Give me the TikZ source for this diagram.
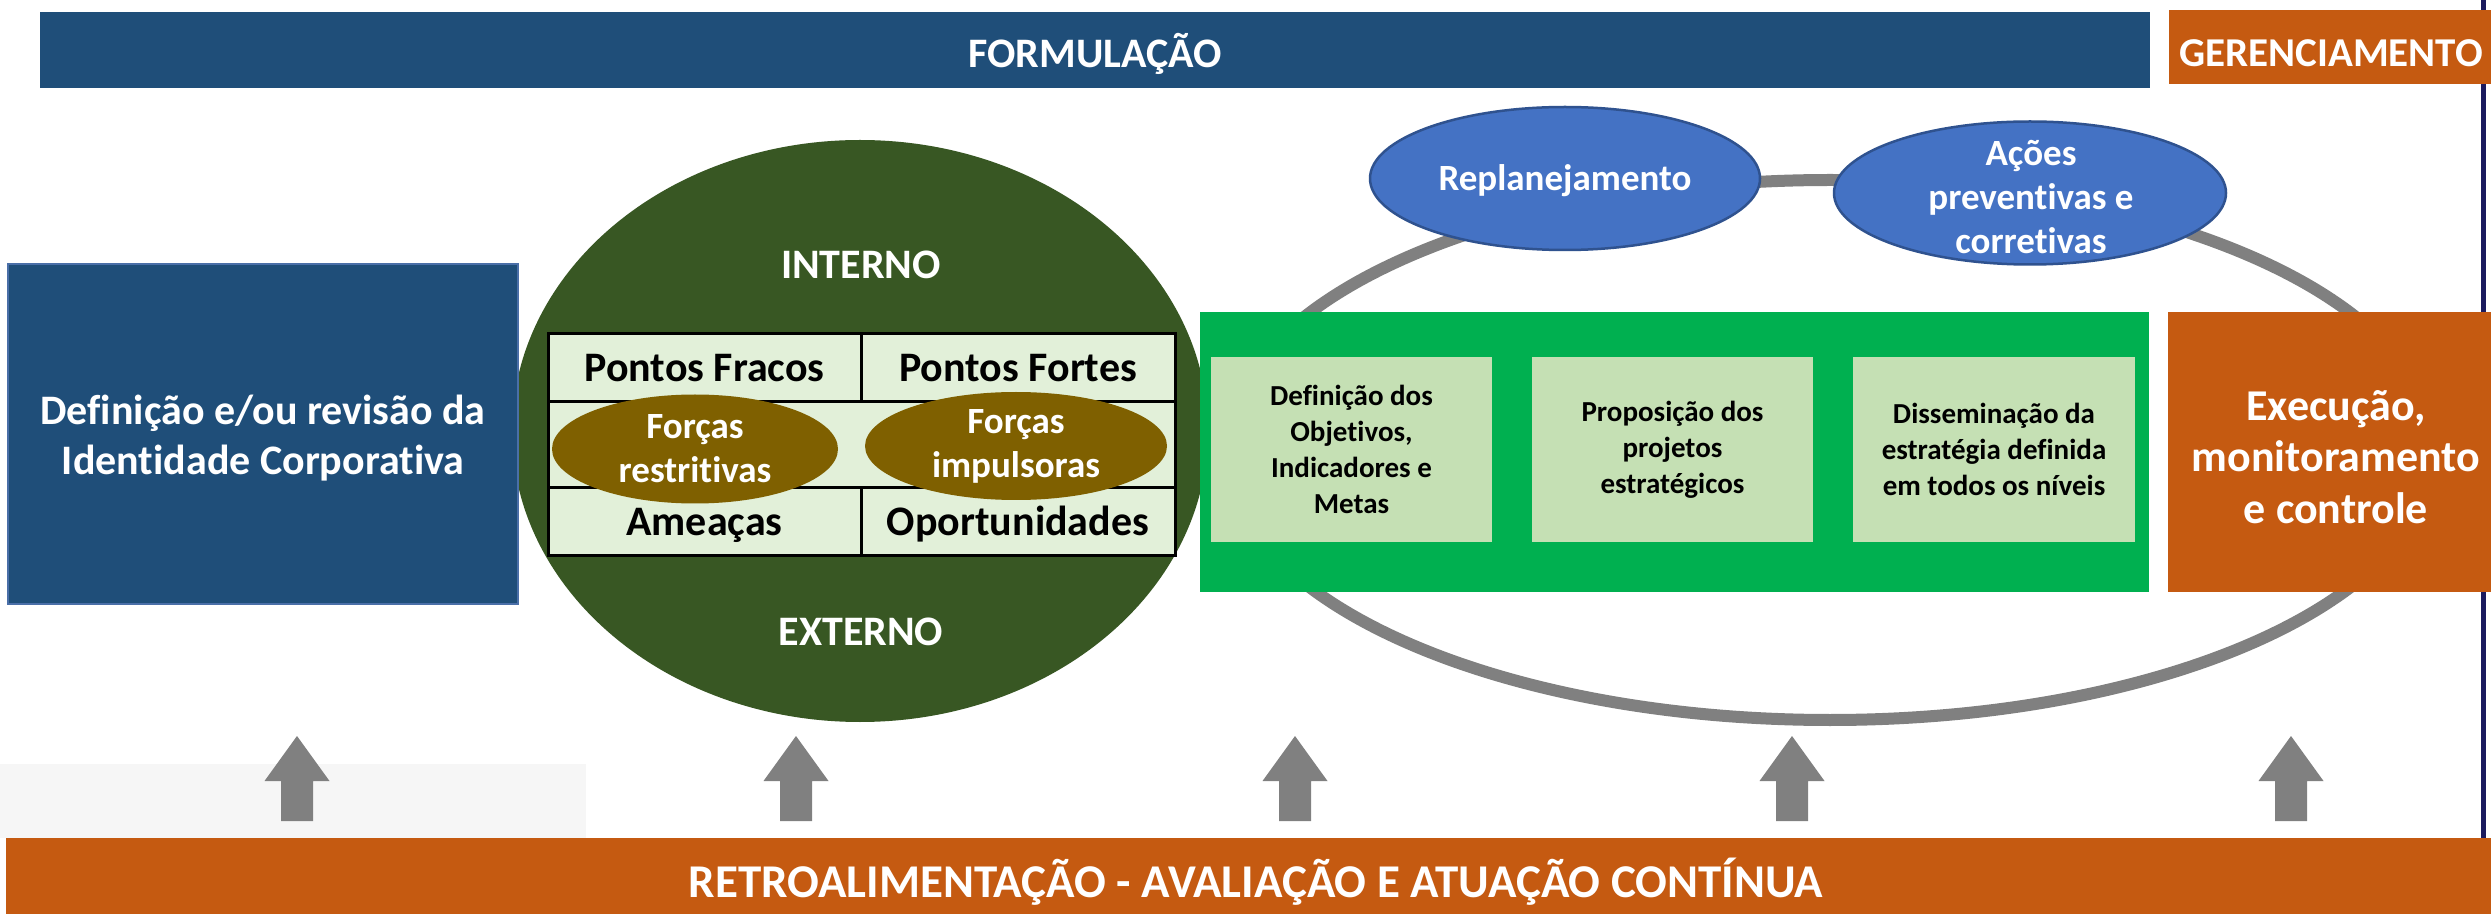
\documentclass[tikz,border=0pt]{standalone}
\usepackage{fontspec}
\setmainfont{Carlito}[Ligatures=NoCommon]
\usetikzlibrary{shapes.geometric}
\definecolor{navy}{HTML}{1F4E79}
\definecolor{navyedge}{HTML}{4A6FA8}
\definecolor{orng}{HTML}{C55A11}
\definecolor{dkgreen}{HTML}{385723}
\definecolor{brgreen}{HTML}{00B050}
\definecolor{ltgreen}{HTML}{C5E0B4}
\definecolor{cellg}{HTML}{E2F0D9}
\definecolor{brwn}{HTML}{7F6000}
\definecolor{blueell}{HTML}{4472C4}
\definecolor{blueedge}{HTML}{2F528F}
\definecolor{arrgray}{HTML}{808080}
\definecolor{palegray}{HTML}{F6F6F6}
\definecolor{edgenavy}{HTML}{1B1B5E}
\tikzset{
  every node/.append style={inner sep=0pt, outer sep=0pt},
  plainbox/.style={rectangle, draw=none},
  ellbox/.style={ellipse, draw=none},
  cell/.style={rectangle, draw=black, line width=1.5pt, fill=cellg},
  fA/.style={font=\bfseries\fontsize{21pt}{25pt}\selectfont},
  fG/.style={font=\bfseries\fontsize{20.5pt}{24pt}\selectfont},
  fR/.style={font=\bfseries\fontsize{23.5pt}{28pt}\selectfont},
  fE/.style={font=\bfseries\fontsize{18.5pt}{22pt}\selectfont},
  fB/.style={font=\bfseries\fontsize{14.5pt}{18pt}\selectfont},
  fX/.style={font=\bfseries\fontsize{22pt}{25.75pt}\selectfont},
  capA/.style={text height=13.4pt, text depth=0pt},
  capE/.style={text height=11.8pt, text depth=0pt},
}
\begin{document}
\begin{tikzpicture}[x=0.5pt,y=-0.5pt]
\useasboundingbox (0,0) rectangle (2491,914);
\fill[white] (0,0) rectangle (2491,914);
% background details
\fill[palegray] (0,764) rectangle (586,838);
\fill[edgenavy] (2481,0) rectangle (2486,838);

% top bars
\node[plainbox, fill=navy, minimum width=1055pt, minimum height=38pt] (formbar) at (1095,50) {};
\node[fA, text=white, anchor=base] (formtxt) at (1095,68) {FORMULAÇÃO};
\node[plainbox, fill=orng, minimum width=161pt, minimum height=37pt] (gerbar) at (2330,47) {};
\node[fG, text=white, anchor=base] (gertxt) at (2331,67) {GERENCIAMENTO};

% SWOT ellipse
\node[ellbox, fill=dkgreen, minimum width=348pt, minimum height=291pt] (swot) at (860,431) {};
\node[fA, text=white, capA] (interno) at (861,265) {INTERNO};
\node[fA, text=white, capA] (externo) at (861,632) {EXTERNO};

% left box
\node[plainbox, fill=navy, draw=navyedge, line width=0.75pt, minimum width=255pt, minimum height=170pt] (ident) at (263,434) {};
\node[fA, text=white, align=center] (identtxt) at (263,438) {Definição e/ou revisão da\\Identidade Corporativa};

% SWOT table
\node[cell, minimum width=156.5pt, minimum height=34pt, fA, capA] (pfr) at (704.5,368) {Pontos Fracos};
\node[cell, minimum width=157pt, minimum height=34pt, fA, capA] (pfo) at (1018,368) {Pontos Fortes};
\node[cell, minimum width=313.5pt, minimum height=43pt] (mid) at (861.5,445) {};
\node[cell, minimum width=156.5pt, minimum height=34pt, fA, capA] (ame) at (704.5,522) {Ameaças};
\node[cell, minimum width=157pt, minimum height=34pt, fA, capA] (opo) at (1018,522) {Oportunidades};
\node[ellbox, fill=brwn, minimum width=143pt, minimum height=54.5pt] (frest) at (695,449) {};
\node[fE, text=white, align=center] (fresttxt) at (frest.center) {Forças\\restritivas};
\node[ellbox, fill=brwn, minimum width=151pt, minimum height=54pt] (fimp) at (1016,446) {};
\node[fE, text=white, align=center] (fimptxt) at (fimp.center) {Forças\\impulsoras};

% cycle ring
\node[ellipse, draw=arrgray, line width=6pt, minimum width=604pt, minimum height=270pt] (ring) at (1830,450) {};

% green block
\node[plainbox, fill=brgreen, minimum width=474.5pt, minimum height=140pt] (green) at (1674.5,452) {};
\node[plainbox, fill=ltgreen, minimum width=140.5pt, minimum height=92.5pt, fB, align=center] (obj) at (1351.5,449.5) {Definição dos\\Objetivos,\\Indicadores e\\Metas};
\node[plainbox, fill=ltgreen, minimum width=140.5pt, minimum height=92.5pt, fB, align=center] (proj) at (1672.5,449.5) {Proposição dos\\projetos\\estratégicos};
\node[plainbox, fill=ltgreen, minimum width=141pt, minimum height=92.5pt, fB, align=center] (diss) at (1994,449.5) {Disseminação da\\estratégia definida\\em todos os níveis};

% execution box
\node[plainbox, fill=orng, minimum width=161.5pt, minimum height=140pt] (exec) at (2329.5,452) {};
\node[fX, text=white, align=center] (exectxt) at (2336,457) {Execução,\\monitoramento\\e controle};

% blue ellipses
\node[ellbox, fill=blueell, draw=blueedge, line width=1.25pt, minimum width=195pt, minimum height=71.5pt] (replan) at (1565,178.5) {};
\node[fE, text=white, capE] (replantxt) at (replan.center) {Replanejamento};
\node[ellbox, fill=blueell, draw=blueedge, line width=1.25pt, minimum width=196pt, minimum height=71.5pt] (acoes) at (2030,193) {};
\node[fE, text=white, align=center] (acoestxt) at (2031,197) {Ações\\preventivas e\\corretivas};

% feedback arrows
\foreach \ax in {297,796,1295,1792,2291}
  \fill[arrgray] (\ax,736) -- (\ax+32.5,781) -- (\ax+16,781) -- (\ax+16,821)
     -- (\ax-16,821) -- (\ax-16,781) -- (\ax-32.5,781) -- cycle;

% bottom bar
\node[plainbox, fill=orng, minimum width=1242.5pt, minimum height=38pt] (retro) at (1248.5,876) {};
\node[fR, text=white, anchor=base] (retrotxt) at (1256,897) {RETROALIMENTAÇÃO - AVALIAÇÃO E ATUAÇÃO CONTÍNUA};
\end{tikzpicture}
\end{document}
